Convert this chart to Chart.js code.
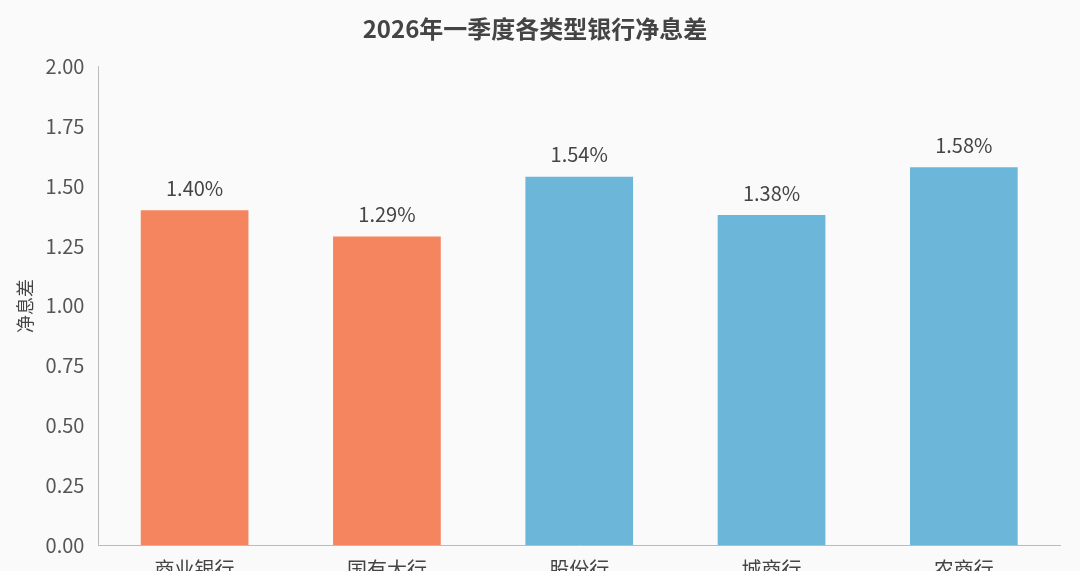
<!DOCTYPE html>
<html><head><meta charset="utf-8">
<script src="https://cdn.jsdelivr.net/npm/chart.js@4"></script>
<style>html,body{margin:0;padding:0;overflow:hidden;background:#fafafa;width:1080px;height:571px}#w{width:1080px;height:585px}</style>
</head><body><div id="w"><canvas id="c"></canvas></div>
<script>
const categories=["商业银行","国有大行","股份行","城商行","农商行"];
const values=[1.40,1.29,1.54,1.38,1.58];
const colors=["#F4855F","#F4855F","#6CB6D9","#6CB6D9","#6CB6D9"];
const yTicks=[0,0.25,0.5,0.75,1,1.25,1.5,1.75,2];
const F="'Noto Sans CJK SC','Noto Sans',sans-serif";
const labelPlugin={id:'lbl',afterDatasetsDraw(ch){const ctx=ch.ctx;const m=ch.getDatasetMeta(0);ctx.save();ctx.font="20px "+F;ctx.fillStyle="#444";ctx.textAlign="center";ctx.textBaseline="bottom";m.data.forEach((b,i)=>{ctx.fillText(values[i].toFixed(2)+"%",b.x,b.y-12);});ctx.restore();}};
new Chart(document.getElementById('c'),{type:'bar',
data:{labels:categories,datasets:[{data:values,backgroundColor:colors,barPercentage:0.56,categoryPercentage:1}]},
options:{responsive:true,maintainAspectRatio:false,animation:false,
layout:{padding:{left:10,right:20,top:0,bottom:0}},
plugins:{legend:{display:false},tooltip:{enabled:false},
title:{display:true,text:"2026年一季度各类型银行净息差",font:{family:F,size:24,weight:'bold'},color:"#444",padding:{top:14,bottom:24}}},
scales:{
x:{grid:{display:false,drawTicks:true},border:{color:"#bbb"},ticks:{font:{family:F,size:20},color:"#444",padding:4}},
y:{min:0,max:2,afterBuildTicks:a=>{a.ticks=yTicks.map(v=>({value:v}));},
grid:{display:false,drawTicks:true,tickLength:8,tickColor:"#999"},border:{color:"#bbb"},
ticks:{font:{family:F,size:20},color:"#555",callback:v=>v.toFixed(2),padding:6},
title:{display:true,text:"净息差",font:{family:F,size:18},color:"#444"}}}},
plugins:[labelPlugin]});
</script></body></html>
